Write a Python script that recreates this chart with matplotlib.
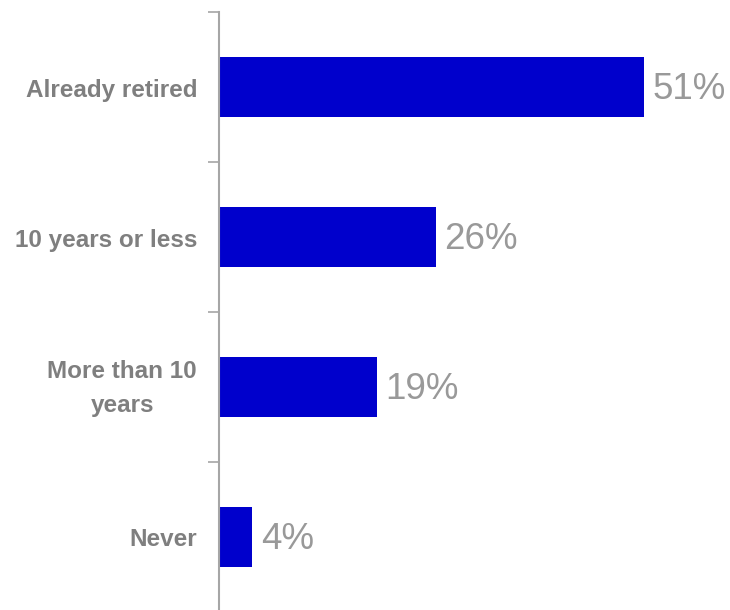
import matplotlib
matplotlib.use("Agg")
import matplotlib.pyplot as plt
from matplotlib.transforms import offset_copy

categories = ["Already retired", "10 years or less", "More than 10\nyears", "Never"]
values = [51, 26, 19, 4]
value_labels = ["51%", "26%", "19%", "4%"]

W, H = 730, 610
fig = plt.figure(figsize=(W / 100, H / 100), dpi=100)
# axes spans 4 category bands of 150 px, starting 12 px below the top edge
ax = fig.add_axes([219 / W, (H - 612) / H, 500 / W, 600 / H])

y = list(range(len(categories)))
ax.barh(y, values, height=0.4, color="#0000CC")
ax.set_ylim(len(categories) - 0.5, -0.5)
ax.set_xlim(0, 60)

val_tr = offset_copy(ax.transData, fig=fig, x=0, y=-2, units="points")
for yi, v, lab in zip(y, values, value_labels):
    ax.text(v + 1.0, yi, lab, va="center", ha="left", fontsize=26.5,
            color="#999999", family="Liberation Sans", transform=val_tr)

# category labels, right-aligned against the axis, baseline-anchored
for yi, cat in zip(y, categories):
    nlines = cat.count("\n") + 1
    dy = -9.5 if nlines == 1 else -25
    ax.annotate(cat, xy=(0, yi), xycoords=("axes fraction", "data"),
                xytext=(-22, dy), textcoords="offset pixels",
                ha="right", va="baseline", multialignment="center",
                fontsize=17.5, color="#7F7F7F", family="Liberation Sans",
                fontweight="bold", linespacing=1.6, annotation_clip=False)

ax.set_yticks([i - 0.5 for i in range(len(categories))])
ax.set_yticklabels([])
ax.tick_params(axis="y", length=8, width=1.2, color="#A6A6A6")
ax.set_xticks([])
for s in ["top", "right", "bottom"]:
    ax.spines[s].set_visible(False)
ax.spines["left"].set_color("#A6A6A6")
ax.spines["left"].set_linewidth(1.5)

fig.savefig("out.png", dpi=100)
